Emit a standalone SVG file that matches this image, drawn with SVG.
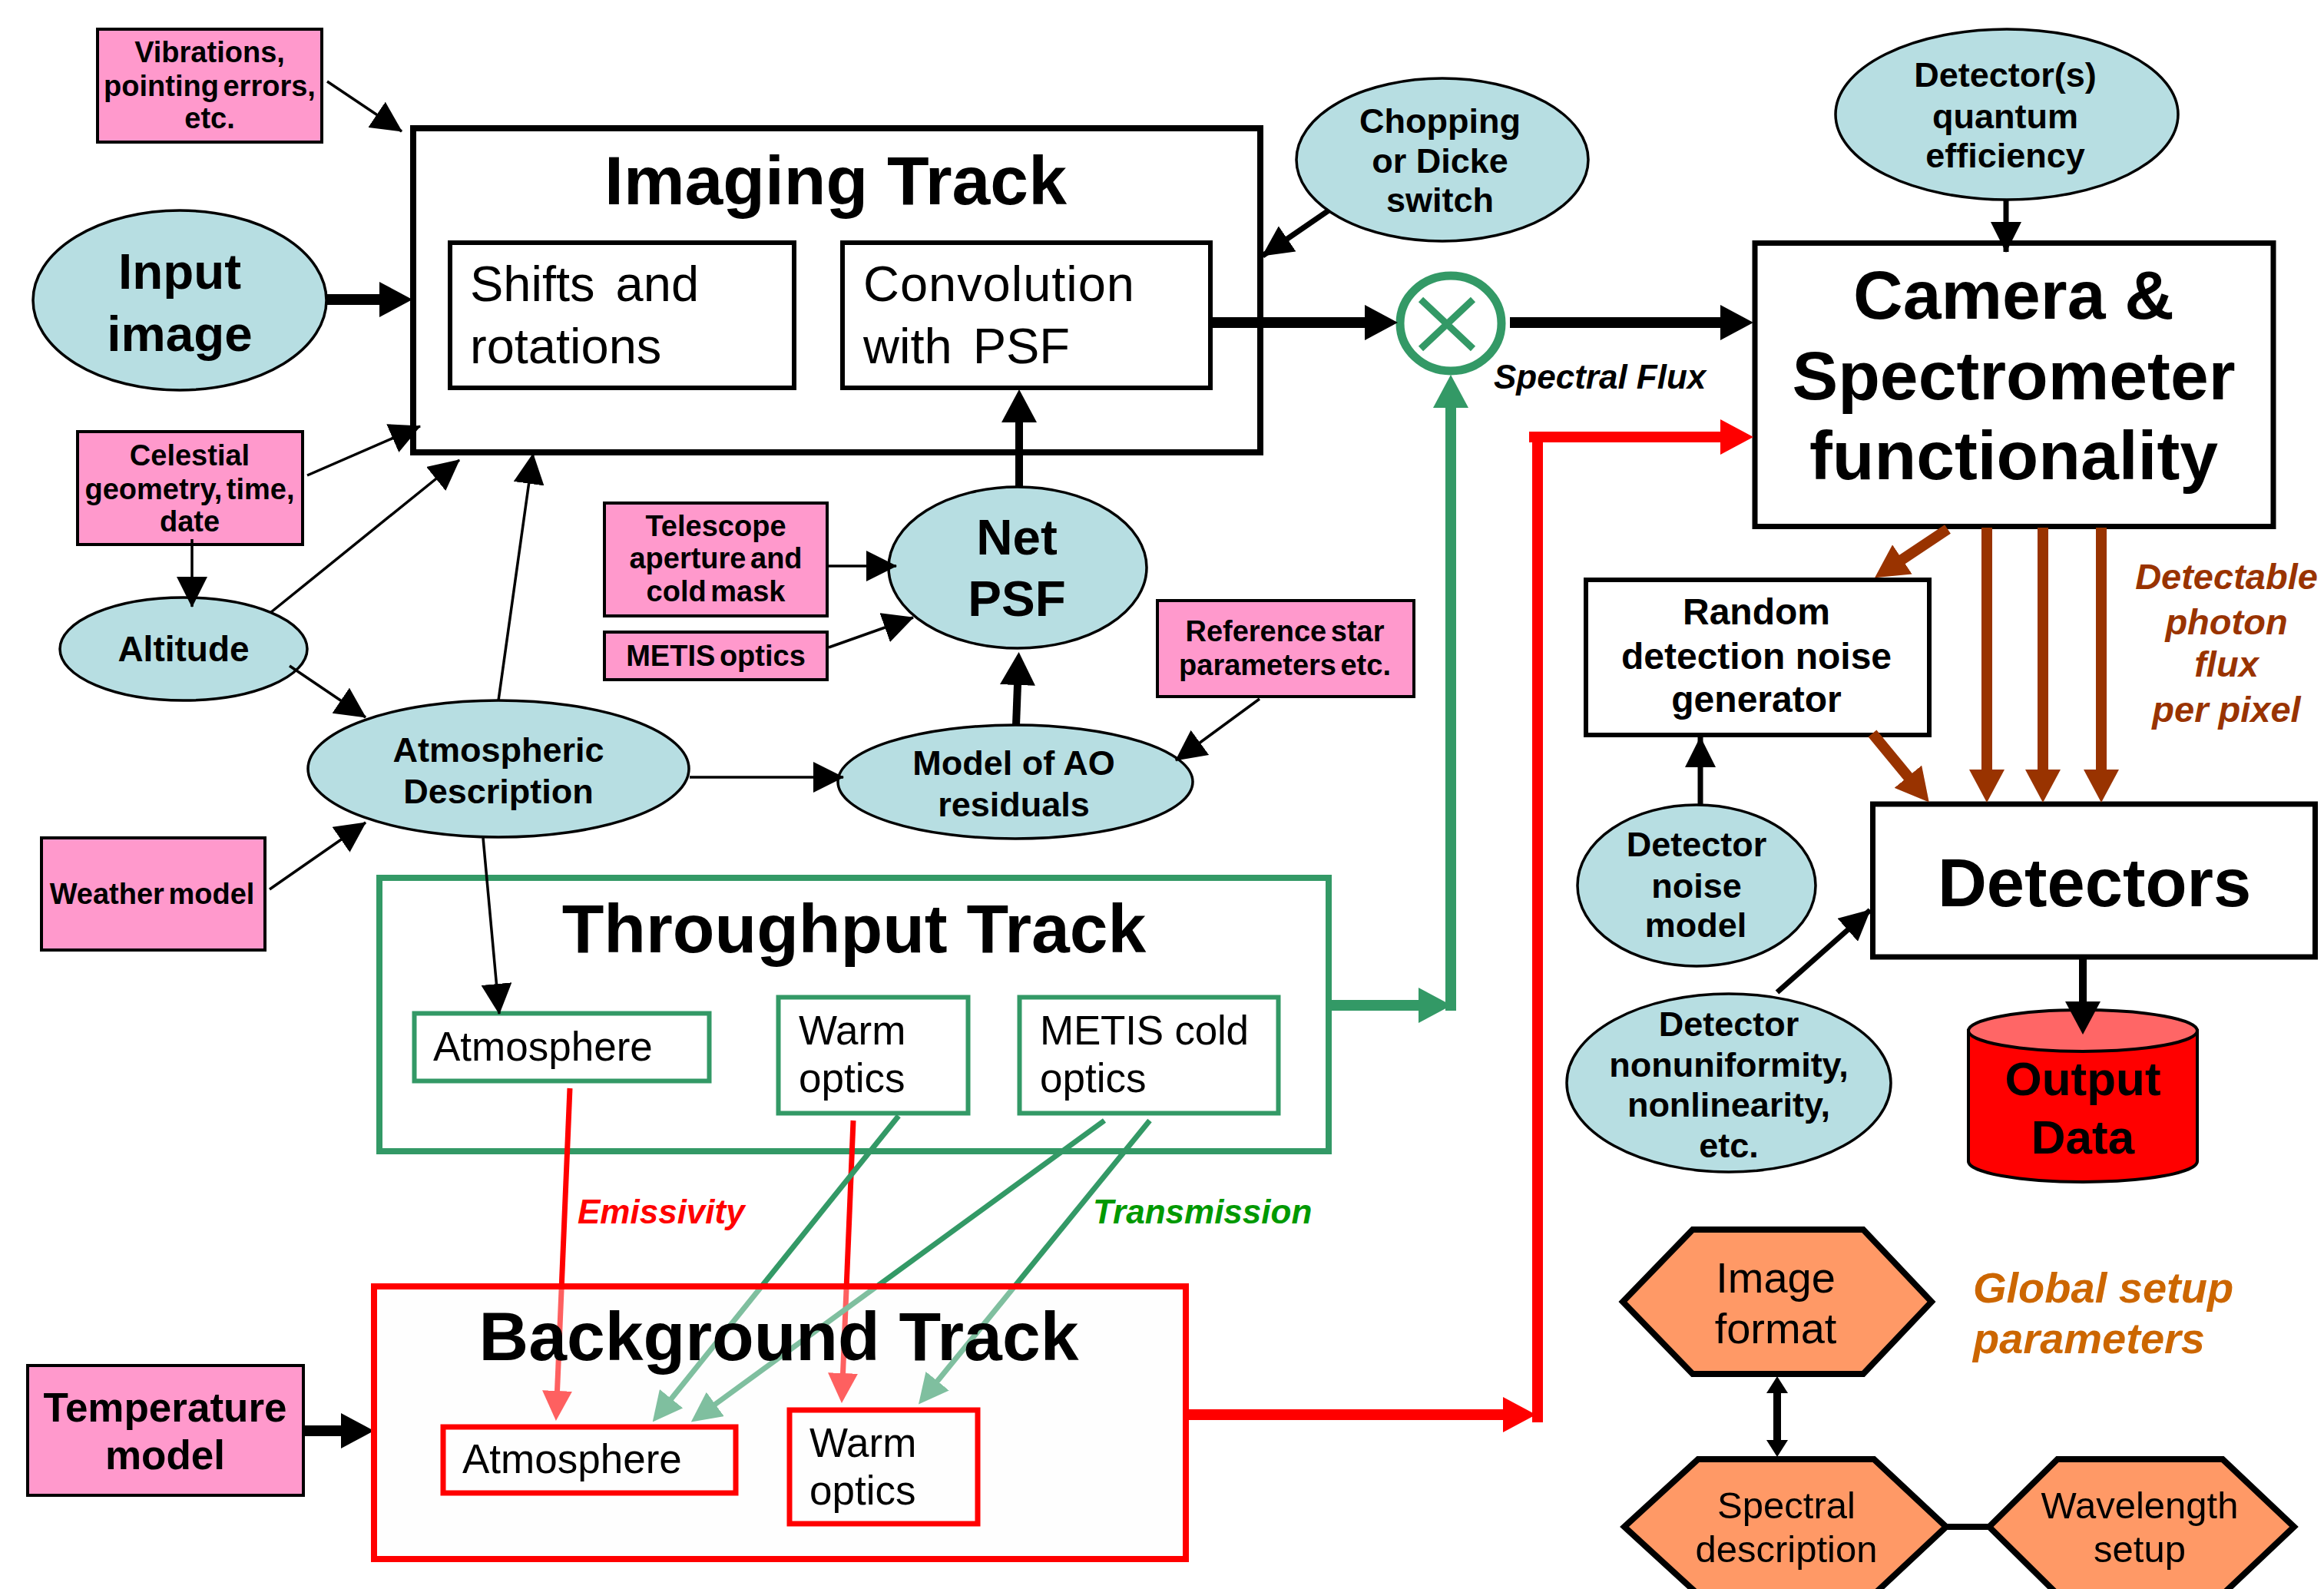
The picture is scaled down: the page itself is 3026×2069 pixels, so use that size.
<svg xmlns="http://www.w3.org/2000/svg" width="3026" height="2069" viewBox="0 0 3026 2069">
<style>
text{font-family:"Liberation Sans",Arial,sans-serif;fill:#000}
.m{text-anchor:middle}
.b{font-weight:bold}
.bi{font-weight:bold;font-style:italic}
.s37{font-size:38px;font-weight:bold;text-anchor:middle;word-spacing:-5px}
.s44{font-size:45px;font-weight:bold;text-anchor:middle}
.s65{font-size:65.5px;font-weight:bold;text-anchor:middle}
.s89{font-size:89.5px;font-weight:bold;text-anchor:middle}
.r65{font-size:65px;word-spacing:9px}
.r53{font-size:53px}
.pink{fill:#FF99CC;stroke:#000;stroke-width:4}
.teal{fill:#B7DEE2;stroke:#000;stroke-width:3.5}
.hex{fill:#FF9966;stroke:#000;stroke-width:8;stroke-linejoin:miter}
.wh{fill:#fff;stroke:#000}
.gb{fill:#fff;stroke:#339966}
.rb{fill:none;stroke:#f00;stroke-width:7}
.c{fill:none;stroke-linecap:butt}
.k3{stroke:#000;stroke-width:3.5;marker-end:url(#hT)}
.k6{stroke:#000;stroke-width:7;marker-end:url(#hT)}
.k9{stroke:#000;stroke-width:10;marker-end:url(#hK)}
.k14{stroke:#000;stroke-width:14;marker-end:url(#hK)}
.br{stroke:#993300;stroke-width:14;marker-end:url(#hB)}
.gt{stroke:#339966;stroke-width:7;marker-end:url(#hG)}
.rt{stroke:#f00;stroke-width:7;marker-end:url(#hR)}
</style>
<defs>
<marker id="hT" markerUnits="userSpaceOnUse" markerWidth="40" markerHeight="40" viewBox="0 0 40 40" refX="39" refY="20" orient="auto"><path d="M0,0L40,20L0,40z" fill="#000"/></marker>
<marker id="hK" markerUnits="userSpaceOnUse" markerWidth="43" markerHeight="46" viewBox="0 0 43 46" refX="1" refY="23" orient="auto"><path d="M0,0L43,23L0,46z" fill="#000"/></marker>
<marker id="hB" markerUnits="userSpaceOnUse" markerWidth="43" markerHeight="46" viewBox="0 0 43 46" refX="1" refY="23" orient="auto"><path d="M0,0L43,23L0,46z" fill="#993300"/></marker>
<marker id="hGk" markerUnits="userSpaceOnUse" markerWidth="43" markerHeight="46" viewBox="0 0 43 46" refX="1" refY="23" orient="auto"><path d="M0,0L43,23L0,46z" fill="#339966"/></marker>
<marker id="hRk" markerUnits="userSpaceOnUse" markerWidth="43" markerHeight="46" viewBox="0 0 43 46" refX="1" refY="23" orient="auto"><path d="M0,0L43,23L0,46z" fill="#f00"/></marker>
<marker id="hG" markerUnits="userSpaceOnUse" markerWidth="39" markerHeight="39" viewBox="0 0 39 39" refX="1" refY="19.5" orient="auto"><path d="M0,0L39,19.5L0,39z" fill="#339966"/></marker>
<marker id="hR" markerUnits="userSpaceOnUse" markerWidth="39" markerHeight="39" viewBox="0 0 39 39" refX="1" refY="19.5" orient="auto"><path d="M0,0L39,19.5L0,39z" fill="#f00"/></marker>
<marker id="hS" markerUnits="userSpaceOnUse" markerWidth="22" markerHeight="28" viewBox="0 0 22 28" refX="1" refY="14" orient="auto-start-reverse"><path d="M0,0L22,14L0,28z" fill="#000"/></marker>
</defs>
<rect width="3026" height="2069" fill="#fff"/>

<g id="imaging-track">
<rect class="wh" x="538" y="167" width="1103" height="422" stroke-width="8"/>
<text class="s89" x="1088" y="266">Imaging Track</text>
</g>
<g id="shifts">
<rect class="wh" x="586" y="316" width="448" height="189" stroke-width="6"/>
<text class="r65" x="612" y="392">Shifts and</text><text class="r65" x="612" y="473">rotations</text>
</g>
<g id="convolution">
<rect class="wh" x="1097" y="316" width="479" height="189" stroke-width="6"/>
<text class="r65" x="1124" y="392" textLength="353" lengthAdjust="spacing">Convolution</text><text class="r65" x="1124" y="473">with PSF</text>
</g>
<g id="vibrations">
<rect class="pink" x="127" y="38" width="292" height="147"/>
<text class="s37" x="273" y="81">Vibrations,</text><text class="s37" x="273" y="125">pointing errors,</text><text class="s37" x="273" y="167">etc.</text>
</g>
<g id="input-image">
<ellipse class="teal" cx="234" cy="391" rx="191" ry="117"/>
<text class="s65" x="234" y="376">Input</text><text class="s65" x="234" y="457">image</text>
</g>
<g id="celestial">
<rect class="pink" x="101" y="562" width="293" height="147"/>
<text class="s37" x="247" y="606">Celestial</text><text class="s37" x="247" y="650">geometry, time,</text><text class="s37" x="247" y="692">date</text>
</g>
<g id="altitude">
<ellipse class="teal" cx="239" cy="845" rx="161" ry="67"/>
<text class="s44" x="239" y="861" style="font-size:46px">Altitude</text>
</g>
<g id="telescope">
<rect class="pink" x="787" y="655" width="290" height="147"/>
<text class="s37" x="932" y="698">Telescope</text><text class="s37" x="932" y="740">aperture and</text><text class="s37" x="932" y="783">cold mask</text>
</g>
<g id="metis-optics">
<rect class="pink" x="787" y="823" width="290" height="62"/>
<text class="s37" x="932" y="867">METIS optics</text>
</g>
<g id="atmospheric-description">
<ellipse class="teal" cx="649" cy="1001" rx="248" ry="89"/>
<text class="s44" x="649" y="992">Atmospheric</text><text class="s44" x="649" y="1046">Description</text>
</g>
<g id="net-psf">
<ellipse class="teal" cx="1325" cy="739" rx="168" ry="105"/>
<text class="s65" x="1324" y="722">Net</text><text class="s65" x="1324" y="802">PSF</text>
</g>
<g id="model-ao">
<ellipse class="teal" cx="1322" cy="1018" rx="231" ry="74"/>
<text class="s44" x="1320" y="1009">Model of AO</text><text class="s44" x="1320" y="1063">residuals</text>
</g>
<g id="reference-star">
<rect class="pink" x="1507" y="782" width="334" height="125"/>
<text class="s37" x="1673" y="835">Reference star</text><text class="s37" x="1673" y="879">parameters etc.</text>
</g>
<g id="chopping">
<ellipse class="teal" cx="1878" cy="208" rx="190" ry="106"/>
<text class="s44" x="1875" y="173">Chopping</text><text class="s44" x="1875" y="225">or Dicke</text><text class="s44" x="1875" y="276">switch</text>
</g>
<g id="multiplier">
<ellipse cx="1889" cy="421" rx="66" ry="62" fill="#fff" stroke="#339966" stroke-width="11"/>
<path d="M1850,390L1918,454M1918,390L1850,454" stroke="#339966" stroke-width="9" fill="none"/>
</g>
<g id="detector-qe">
<ellipse class="teal" cx="2613" cy="149" rx="223" ry="111"/>
<text class="s44" x="2611" y="113">Detector(s)</text><text class="s44" x="2611" y="167">quantum</text><text class="s44" x="2611" y="218">efficiency</text>
</g>
<g id="camera">
<rect class="wh" x="2285" y="316.500" width="675" height="369" stroke-width="7"/>
<text class="s89" x="2622" y="415">Camera &amp;</text><text class="s89" x="2622" y="520">Spectrometer</text><text class="s89" x="2622" y="624">functionality</text>
</g>
<g id="random-noise">
<rect class="wh" x="2065" y="755" width="447" height="202" stroke-width="6"/>
<text class="m b" font-size="48" x="2287" y="813">Random</text><text class="m b" font-size="48" x="2287" y="871">detection noise</text><text class="m b" font-size="48" x="2287" y="927">generator</text>
</g>
<g id="detectors">
<rect class="wh" x="2438.500" y="1047" width="576" height="199" stroke-width="7"/>
<text class="m b" font-size="88.500" x="2727" y="1180">Detectors</text>
</g>
<g id="detector-noise">
<ellipse class="teal" cx="2209" cy="1153" rx="155" ry="105"/>
<text class="s44" x="2209" y="1115">Detector</text><text class="s44" x="2209" y="1169">noise</text><text class="s44" x="2208" y="1220">model</text>
</g>
<g id="detector-nonuniformity">
<ellipse class="teal" cx="2251" cy="1410" rx="211" ry="116"/>
<text class="s44" x="2251" y="1349">Detector</text><text class="s44" x="2251" y="1402">nonuniformity,</text><text class="s44" x="2251" y="1454">nonlinearity,</text><text class="s44" x="2251" y="1507">etc.</text>
</g>
<g id="output-data">
<path d="M2563,1342V1512A149,27 0 0 0 2861,1512V1342z" fill="#f00" stroke="#000" stroke-width="4"/>
<ellipse cx="2712" cy="1342" rx="149" ry="27" fill="#FF6666" stroke="#000" stroke-width="4"/>
<text class="m b" font-size="62" x="2712" y="1426">Output</text><text class="m b" font-size="62" x="2712" y="1502">Data</text>
</g>
<g id="image-format">
<polygon class="hex" points="2204,1601 2426,1601 2515,1695 2426,1789 2204,1789 2113,1695"/>
<text class="m" font-size="56" x="2312" y="1683">Image</text><text class="m" font-size="56" x="2312" y="1749">format</text>
</g>
<g id="spectral-description">
<polygon class="hex" points="2211,1900 2440,1900 2534,1988 2440,2076 2211,2076 2115,1988"/>
<text class="m" font-size="49" x="2326" y="1977">Spectral</text><text class="m" font-size="49" x="2326" y="2034">description</text>
</g>
<g id="wavelength-setup">
<polygon class="hex" points="2679,1900 2894,1900 2987,1988 2894,2076 2679,2076 2590,1988"/>
<text class="m" font-size="49" x="2786" y="1977">Wavelength</text><text class="m" font-size="49" x="2786" y="2034">setup</text>
</g>
<g id="throughput-track">
<rect class="gb" x="494" y="1143" width="1236" height="356" stroke-width="8"/>
<text class="s89" x="1112" y="1240">Throughput Track</text>
</g>
<g id="t-atmosphere">
<rect class="gb" x="539.500" y="1319.500" width="384" height="88" stroke-width="6"/>
<text class="r53" x="564" y="1381">Atmosphere</text>
</g>
<g id="t-warm-optics">
<rect class="gb" x="1013.500" y="1298.500" width="247" height="151" stroke-width="6"/>
<text class="r53" x="1040" y="1360">Warm</text><text class="r53" x="1040" y="1422">optics</text>
</g>
<g id="t-metis-cold">
<rect class="gb" x="1327.500" y="1298.500" width="337" height="151" stroke-width="6"/>
<text class="r53" x="1354" y="1360" textLength="272" lengthAdjust="spacing">METIS cold</text><text class="r53" x="1354" y="1422">optics</text>
</g>
<g id="weather">
<rect class="pink" x="54" y="1091" width="291" height="146"/>
<text class="s37" x="198" y="1177">Weather model</text>
</g>
<g id="temperature">
<rect class="pink" x="36" y="1778" width="359" height="169"/>
<text class="m b" font-size="53" x="215" y="1851">Temperature</text><text class="m b" font-size="53" x="215" y="1913">model</text>
</g>

<g id="connectors" class="c">
<line class="k3" x1="426" y1="106" x2="523" y2="171"/>
<line class="k14" x1="425" y1="390" x2="495" y2="390"/>
<line class="k3" x1="400" y1="619" x2="547" y2="555"/>
<line class="k3" x1="250" y1="702" x2="250" y2="790"/>
<line class="k3" x1="353" y1="797" x2="598" y2="599"/>
<line class="k3" x1="377" y1="867" x2="476" y2="934"/>
<line class="k3" x1="649" y1="912" x2="694" y2="591"/>
<line class="k3" x1="1079" y1="737" x2="1167" y2="737"/>
<line class="k3" x1="1079" y1="843" x2="1189" y2="804"/>
<line class="k9" x1="1323" y1="944" x2="1325" y2="891"/>
<line class="k9" x1="1327" y1="633" x2="1327" y2="549"/>
<line class="k3" x1="1640" y1="910" x2="1531" y2="990"/>
<line class="k6" x1="1730" y1="274" x2="1644" y2="333"/>
<line class="k14" x1="1577" y1="420" x2="1778" y2="420"/>
<line class="k14" x1="1966" y1="420" x2="2241" y2="420"/>
<line class="k6" x1="2612" y1="261" x2="2612" y2="328"/>
<line class="br" x1="2536" y1="689" x2="2476" y2="729"/>
<line class="br" x1="2587" y1="687" x2="2587" y2="1003"/>
<line class="br" x1="2660" y1="687" x2="2660" y2="1003"/>
<line class="br" x1="2736" y1="687" x2="2736" y2="1003"/>
<line class="br" x1="2438" y1="955" x2="2485" y2="1012"/>
<line class="k6" x1="2214" y1="1048" x2="2214" y2="960"/>
<line class="k6" x1="2314" y1="1292" x2="2435" y2="1185"/>
<line class="k9" x1="2712" y1="1249" x2="2712" y2="1305"/>
<line stroke="#000" stroke-width="10" marker-start="url(#hS)" marker-end="url(#hS)" x1="2314" y1="1813" x2="2314" y2="1876"/>
<line stroke="#000" stroke-width="8" x1="2531" y1="1988" x2="2593" y2="1988"/>
<line class="k3" x1="629" y1="1091" x2="650" y2="1320"/>
<line class="k3" x1="351" y1="1158" x2="476" y2="1071"/>
<line class="k3" x1="898" y1="1012" x2="1098" y2="1012"/>
<line stroke="#339966" stroke-width="14" marker-end="url(#hGk)" x1="1732" y1="1309" x2="1848" y2="1309"/>
<line stroke="#339966" stroke-width="14" marker-end="url(#hGk)" x1="1889" y1="1316" x2="1889" y2="530"/>
<line stroke="#f00" stroke-width="14" x1="2002" y1="562" x2="2002" y2="1852"/>
<line stroke="#f00" stroke-width="14" marker-end="url(#hRk)" x1="1991" y1="569" x2="2241" y2="569"/>
<line stroke="#f00" stroke-width="14" marker-end="url(#hRk)" x1="1545" y1="1842" x2="1958" y2="1842"/>
<line class="k14" x1="396" y1="1863" x2="445" y2="1863"/>
<line class="rt" x1="742" y1="1417" x2="725.500" y2="1812"/>
<line class="rt" x1="1111" y1="1459" x2="1097.500" y2="1789"/>
<line class="gt" x1="1170" y1="1453" x2="873.500" y2="1822"/>
<line class="gt" x1="1438" y1="1459" x2="930.500" y2="1829"/>
<line class="gt" x1="1497" y1="1459" x2="1220" y2="1799"/>
</g>

<g id="background-track">
<rect x="487" y="1675" width="1057" height="355" fill="#fcfcfc" fill-opacity=".38" stroke="#f00" stroke-width="8"/>
<text class="s89" x="1014" y="1771">Background Track</text>
</g>
<g id="b-atmosphere">
<rect class="rb" x="577" y="1858" width="381" height="86"/>
<text class="r53" x="602" y="1918">Atmosphere</text>
</g>
<g id="b-warm-optics">
<rect class="rb" x="1028" y="1836" width="245" height="148"/>
<text class="r53" x="1054" y="1897">Warm</text><text class="r53" x="1054" y="1959">optics</text>
</g>
<g id="labels">
<text class="bi" font-size="44" x="1945" y="506">Spectral Flux</text>
<text class="bi m" font-size="47" x="2899" y="767" style="fill:#993300">Detectable</text>
<text class="bi m" font-size="47" x="2899" y="826" style="fill:#993300">photon</text>
<text class="bi m" font-size="47" x="2899" y="881" style="fill:#993300">flux</text>
<text class="bi m" font-size="47" x="2899" y="940" style="fill:#993300">per pixel</text>
<text class="bi" font-size="56" x="2569" y="1696" style="fill:#CC6600">Global setup</text>
<text class="bi" font-size="56" x="2569" y="1762" style="fill:#CC6600">parameters</text>
<text class="bi" font-size="44" x="752" y="1593" style="fill:#f00">Emissivity</text>
<text class="bi" font-size="44" x="1423" y="1593" style="fill:#009900">Transmission</text>
</g>
</svg>
